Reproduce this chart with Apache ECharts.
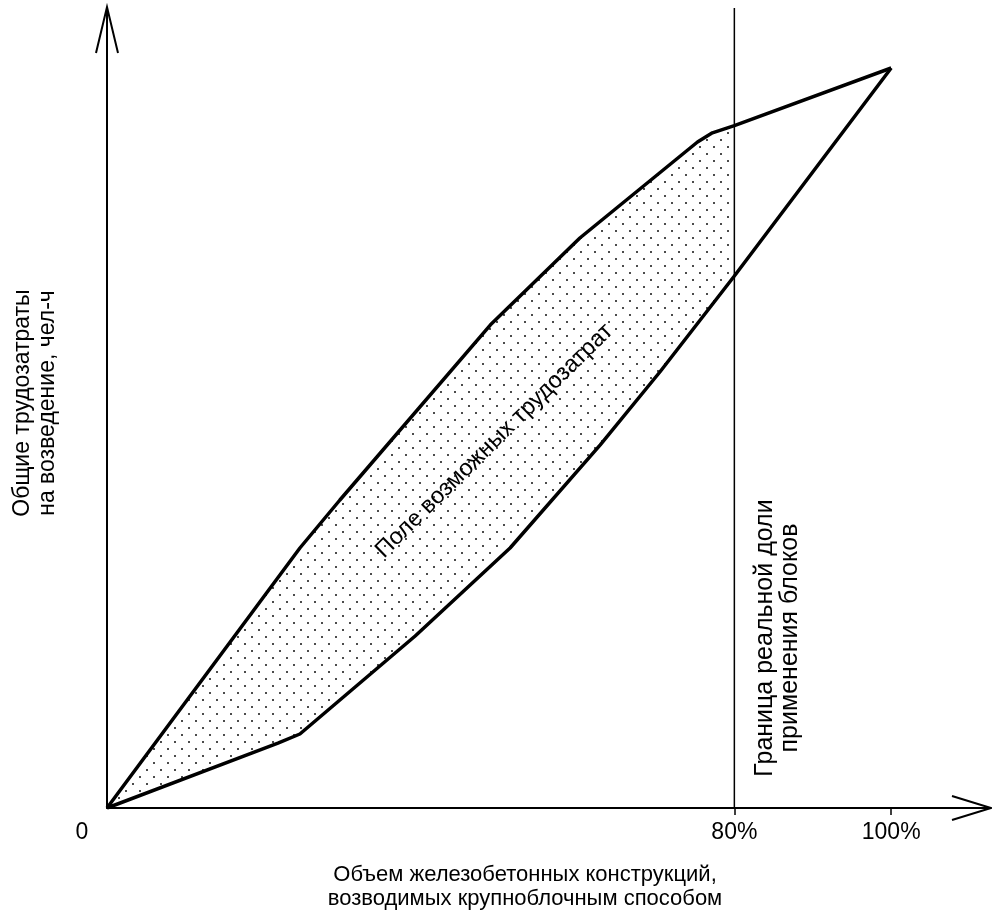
<!DOCTYPE html>
<html>
<head>
<meta charset="utf-8">
<script src="https://cdn.jsdelivr.net/npm/echarts@6/dist/echarts.min.js"></script>
<style>
html,body{margin:0;padding:0;background:#fff;}
#chart{width:992px;height:915px;}
</style>
</head>
<body>
<div id="chart"></div>
<script>
// ---- data ----
const xTickValues = [0, 80, 100];
const xTickLabels = ['0', '80%', '100%'];
const upperX = [0, 24.6, 29.7, 48.9, 60.3, 75.3, 77.2, 80, 100];
const upperY = [0, 32.5, 38.5, 60.4, 71.25, 83.25, 84.4, 85.3, 92.5];
const lowerX = [0, 21.8, 24.6, 39.3, 51.4, 62.9, 70.5, 80, 100];
const lowerY = [0, 8.1, 9.25, 21.5, 32.5, 45.4, 54.5, 66.5, 92.5];
const boundaryX = 80;
const xMax = 112.6;
const yMax = 100;
const xTitle = 'Объем железобетонных конструкций,\nвозводимых крупноблочным способом';
const yTitle = 'Общие трудозатраты\nна возведение, чел-ч';
const boundaryLabel = 'Граница реальной доли\nприменения блоков';
const fieldLabel = 'Поле возможных трудозатрат';
const fieldLabelPos = [49.4, 45.9];

const upper = upperX.map((x, i) => [x, upperY[i]]);
const lower = lowerX.map((x, i) => [x, lowerY[i]]);
const field = upper.filter(p => p[0] <= boundaryX)
  .concat(lower.filter(p => p[0] <= boundaryX).reverse());

// dot pattern
const pc = document.createElement('canvas');
pc.width = 14; pc.height = 14;
const g = pc.getContext('2d');
g.fillStyle = '#111';
[[7,0],[7,14],[0,7],[14,7]].forEach(([cx,cy]) => {
  g.beginPath(); g.arc(cx, cy, 1.0, 0, Math.PI*2); g.fill();
});

const FONT = 'Liberation Sans, Arial, sans-serif';
const chart = echarts.init(document.getElementById('chart'), null, {renderer: 'canvas'});

chart.setOption({
  animation: false,
  backgroundColor: '#fff',
  grid: {left: 107, right: 2, top: 8, bottom: 107, containLabel: false},
  xAxis: {
    type: 'value', min: 0, max: xMax,
    axisLine: {show: true, lineStyle: {color: '#000', width: 2}},
    axisTick: {show: true, customValues: [80, 100], length: 7, lineStyle: {color: '#000', width: 1.5}},
    axisLabel: {
      show: true, customValues: xTickValues, margin: 13,
      fontSize: 23, color: '#000', fontFamily: FONT,
      formatter: v => {
        const i = xTickValues.indexOf(v);
        const t = i >= 0 ? xTickLabels[i] : '';
        return v === 0 ? '{z|' + t + '}' : t;
      },
      rich: {z: {fontSize: 23, color: '#000', fontFamily: FONT, padding: [0, 50, 0, 0]}}
    },
    splitLine: {show: false}
  },
  yAxis: {
    type: 'value', min: 0, max: yMax,
    axisLine: {show: true, lineStyle: {color: '#000', width: 2}},
    axisTick: {show: false}, axisLabel: {show: false}, splitLine: {show: false}
  },
  series: [
    {
      type: 'custom', silent: true, z: 1,
      data: [[0, 0]],
      renderItem: (params, api) => ({
        type: 'polygon',
        shape: {points: field.map(p => api.coord(p))},
        style: {fill: {image: pc, repeat: 'repeat'}, stroke: null}
      })
    },
    {
      type: 'line', data: upper, showSymbol: false, z: 3,
      lineStyle: {color: '#000', width: 3.5}, silent: true
    },
    {
      type: 'line', data: lower, showSymbol: false, z: 3,
      lineStyle: {color: '#000', width: 3.5}, silent: true
    },
    {
      type: 'line', data: [[boundaryX, 0], [boundaryX, yMax]], showSymbol: false, z: 2,
      lineStyle: {color: '#000', width: 1.5}, silent: true
    }
  ]
});

const tipY = chart.convertToPixel({gridIndex: 0}, [0, yMax]);
const tipX = chart.convertToPixel({gridIndex: 0}, [xMax, 0]);
const lbl = chart.convertToPixel({gridIndex: 0}, fieldLabelPos);
const bnd = chart.convertToPixel({gridIndex: 0}, [boundaryX, 0]);

chart.setOption({
  graphic: [
    {type: 'polyline', shape: {points: [[tipY[0]-11, tipY[1]+45], [tipY[0], tipY[1]-1], [tipY[0]+11, tipY[1]+45]]},
     style: {stroke: '#000', lineWidth: 2, fill: null}},
    {type: 'polyline', shape: {points: [[tipX[0]-38, tipX[1]-12], [tipX[0]+1, tipX[1]], [tipX[0]-38, tipX[1]+12]]},
     style: {stroke: '#000', lineWidth: 2, fill: null}},
    {type: 'text', x: lbl[0], y: lbl[1], rotation: Math.PI / 4 * 0.99,
     style: {text: fieldLabel, fill: '#000', font: '23.5px ' + FONT, align: 'center', verticalAlign: 'middle'}},
    {type: 'text', x: bnd[0] + 43, y: bnd[1] - 170, rotation: Math.PI / 2,
     style: {text: boundaryLabel, fill: '#000', font: '25px ' + FONT, align: 'center', verticalAlign: 'middle', lineHeight: 25}},
    {type: 'text', x: 35, y: 403, rotation: Math.PI / 2,
     style: {text: yTitle, fill: '#000', font: '23px ' + FONT, align: 'center', verticalAlign: 'middle', lineHeight: 25}},
    {type: 'text', x: 525, y: 887,
     style: {text: xTitle, fill: '#000', font: '22px ' + FONT, align: 'center', verticalAlign: 'middle', lineHeight: 24}}
  ]
});
</script>
</body>
</html>
